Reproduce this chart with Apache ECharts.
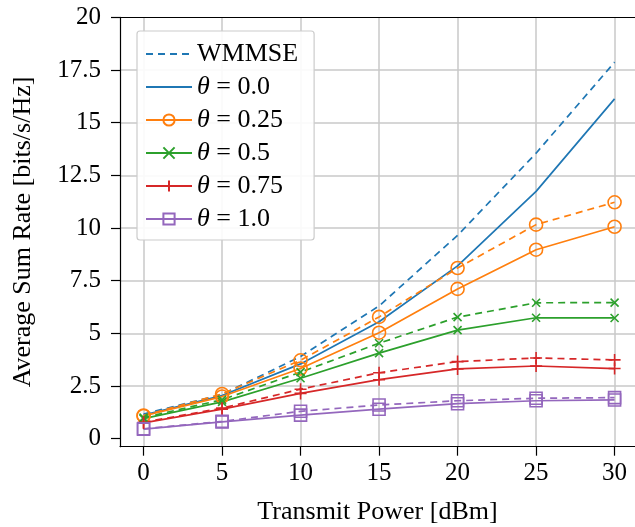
<!DOCTYPE html>
<html><head><meta charset="utf-8">
<script src="https://cdn.jsdelivr.net/npm/echarts@6/dist/echarts.min.js"></script>
<style>html,body{margin:0;padding:0;background:#fff}#c{width:635px;height:527px}</style>
</head><body><div id="c"></div>
<script>
const power = [0, 5, 10, 15, 20, 25, 30];
const wmmse = [1.17, 2.10, 3.90, 6.30, 9.65, 13.55, 17.87];
const theta00 = [1.12, 2.05, 3.55, 5.55, 8.20, 11.74, 16.13];
const theta025 = [1.08, 2.00, 3.33, 5.03, 7.11, 8.97, 10.06];
const theta025b = [1.10, 2.12, 3.72, 5.78, 8.10, 10.16, 11.22];
const theta05 = [0.95, 1.75, 2.87, 4.06, 5.15, 5.74, 5.73];
const theta05b = [1.00, 1.85, 3.16, 4.53, 5.77, 6.45, 6.46];
const theta075 = [0.75, 1.40, 2.15, 2.80, 3.31, 3.45, 3.33];
const theta075b = [0.78, 1.45, 2.35, 3.13, 3.66, 3.83, 3.74];
const theta10 = [0.45, 0.80, 1.12, 1.40, 1.66, 1.80, 1.84];
const theta10b = [0.47, 0.82, 1.30, 1.60, 1.80, 1.92, 1.95];
const xTicks = [0, 5, 10, 15, 20, 25, 30];
const yTicks = [0, 2.5, 5, 7.5, 10, 12.5, 15, 17.5, 20];
const legendNames = ['WMMSE', 'θ = 0.0', 'θ = 0.25', 'θ = 0.5', 'θ = 0.75', 'θ = 1.0'];

const FONT = 'Liberation Serif';
const GRID_COLOR = '#c8c8c8';
const C = {blue: '#1f77b4', orange: '#ff7f0e', green: '#2ca02c', red: '#d62728', purple: '#9467bd'};
const SYM = {
  none: ['circle', 0],
  circle: ['circle', 13],
  x: ['path://M0,0L10,10M10,0L0,10', 8],
  plus: ['path://M5,0L5,10M0,5L10,5', 12],
  square: ['rect', 12]
};
function mk(name, vals, color, dashed, sym) {
  const s = SYM[sym];
  const none = sym === 'none';
  return {
    name: name, type: 'line', data: power.map((p, i) => [p, vals[i]]),
    symbol: s[0], symbolSize: s[1], showSymbol: !none,
    lineStyle: {color: color, width: 1.7, type: dashed ? [7, 5] : 'solid'},
    itemStyle: {color: 'transparent', borderColor: none ? 'transparent' : color, borderWidth: 1.6},
    emphasis: {disabled: true}, z: 3
  };
}
const series = [
  {
    name: 'xgrid', type: 'line', data: [], z: 0, silent: true,
    markLine: {
      z: 0, silent: true, symbol: ['none', 'none'], label: {show: false}, animation: false,
      lineStyle: {color: GRID_COLOR, width: 1.5, type: 'solid'},
      emphasis: {disabled: true},
      data: xTicks.map(v => ({xAxis: v}))
    }
  },
  mk('WMMSE', wmmse, C.blue, true, 'none'),
  mk('θ = 0.0', theta00, C.blue, false, 'none'),
  mk('θ = 0.25', theta025, C.orange, false, 'circle'),
  mk('θ = 0.25 b', theta025b, C.orange, true, 'circle'),
  mk('θ = 0.5', theta05, C.green, false, 'x'),
  mk('θ = 0.5 b', theta05b, C.green, true, 'x'),
  mk('θ = 0.75', theta075, C.red, false, 'plus'),
  mk('θ = 0.75 b', theta075b, C.red, true, 'plus'),
  mk('θ = 1.0', theta10, C.purple, false, 'square'),
  mk('θ = 1.0 b', theta10b, C.purple, true, 'square')
];
const axisBase = {
  axisLine: {show: true, onZero: false, lineStyle: {color: '#000', width: 1.2}},
  nameTextStyle: {fontFamily: FONT, fontSize: 26, color: '#000'}
};
const option = {
  animation: false,
  backgroundColor: '#fff',
  grid: {left: 120, right: 0, top: 17.3, bottom: 80.3, containLabel: false, outerBoundsMode: 'none'},
  xAxis: [
    Object.assign({}, axisBase, {
      type: 'value', min: -1.5, max: 31.3, position: 'bottom',
      name: 'Transmit Power [dBm]', nameLocation: 'middle', nameGap: 52,
      splitLine: {show: false},
      axisTick: {show: true, inside: false, length: 9, customValues: xTicks, lineStyle: {color: '#000', width: 1.2}},
      axisLabel: {customValues: xTicks, fontFamily: FONT, fontSize: 25, color: '#000', margin: 14}
    }),
    {type: 'value', min: -1.5, max: 31.3, position: 'top', axisLine: {show: true, onZero: false, lineStyle: {color: '#000', width: 1.2}},
     axisTick: {show: false}, axisLabel: {show: false}, splitLine: {show: false}}
  ],
  yAxis: [
    Object.assign({}, axisBase, {
      type: 'value', min: -0.38, max: 20.0, position: 'left',
      name: 'Average Sum Rate [bits/s/Hz]', nameLocation: 'middle', nameGap: 84,
      splitLine: {show: true, showMinLine: false, showMaxLine: false, lineStyle: {color: GRID_COLOR, width: 1.5}},
      axisTick: {show: true, inside: false, length: 9, customValues: yTicks, lineStyle: {color: '#000', width: 1.2}},
      axisLabel: {customValues: yTicks, fontFamily: FONT, fontSize: 25, color: '#000', margin: 19}
    })
  ],
  legend: {
    data: legendNames, orient: 'vertical', left: 137, top: 31, z: 20,
    itemWidth: 46, itemHeight: 14, itemGap: 7,
    padding: [10, 16, 8, 8],
    backgroundColor: 'rgba(255,255,255,0.9)', borderColor: '#cccccc', borderWidth: 1.2, borderRadius: 3,
    textStyle: {fontFamily: FONT, fontSize: 26, color: '#000',
      rich: {i: {fontFamily: FONT, fontSize: 26, fontStyle: 'italic', color: '#000'}}},
    formatter: function (n) { return n.charAt(0) === 'θ' ? '{i|θ}' + n.slice(1) : n; },
    selectedMode: false
  },
  series: series
};
const chart = echarts.init(document.getElementById('c'), null, {renderer: 'canvas'});
chart.setOption(option);
</script></body></html>
